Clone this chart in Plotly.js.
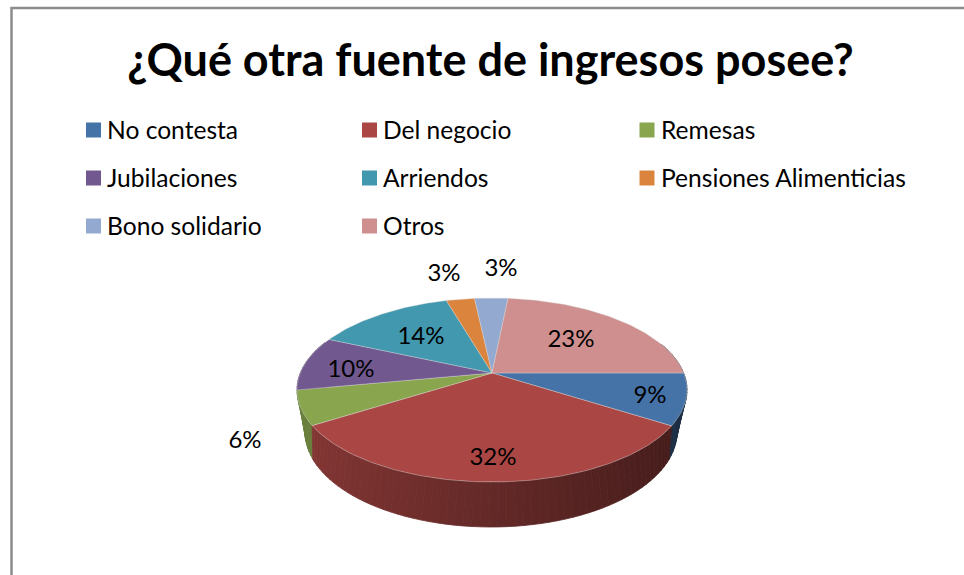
<!DOCTYPE html>
<html><head><meta charset="utf-8">
<script src="https://cdn.plot.ly/plotly-3.0.1.min.js"></script>
<style>html,body{margin:0;padding:0;background:#fff}#c{width:964px;height:575px}</style></head>
<body><div id="c"></div>
<script>
const categories=["No contesta","Del negocio","Remesas","Jubilaciones","Arriendos","Pensiones Alimenticias","Bono solidario","Otros"];
const shares=[9,32,6,9.6,13.8,2.8,3.3,23.4];
const colors=["#4572A7","#AA4643","#89A54E","#71588F","#4198AF","#DB843D","#93A9CF","#CE8F8E"];
const labelX=[650,493,245,351,421,444,501,571];
const labelY=[397,459,442,371,338,275,270,341];
const legendCol=[86,362,639.5];
const legendRow=[130,178,226];

const total=shares.reduce((a,b)=>a+b,0);
const topE={cx:492,cy:390,rx:195,ry:92,k:-0.185};
const botE={cx:491,cy:432,rx:186,ry:95,k:-0.291};
function rim(E,deg){
  const t=deg*Math.PI/180,u=Math.cos(t),v=Math.sin(t),d=1+E.k*v;
  return [E.cx+E.rx*u*Math.sqrt(1-E.k*E.k)/d, E.cy+E.ry*(v+E.k)/d];
}
function shade(hex,f){
  const n=parseInt(hex.slice(1),16);
  return `rgb(${Math.round((n>>16)*f)},${Math.round(((n>>8)&255)*f)},${Math.round((n&255)*f)})`;
}
const traces=[];
const STEP=2;
let a0=0;const spans=shares.map(s=>{const a=a0,b=a0+s/total*360;a0=b;return [a,b];});
const strips=[];
spans.forEach((sp,i)=>{
  for(let a=sp[0];a<sp[1];a+=STEP){
    const b=Math.min(a+STEP,sp[1]);
    const m=(a+b)/2;
    if(Math.sin(m*Math.PI/180)<-0.35) continue;
    strips.push({a,b,i,m});
  }
});
strips.sort((p,q)=>Math.sin(p.m*Math.PI/180)-Math.sin(q.m*Math.PI/180));
strips.forEach(s=>{
  const p=[rim(topE,s.a),rim(topE,s.b),rim(botE,s.b),rim(botE,s.a)];
  const f=0.78-0.38*(p[0][0]-297)/390;
  const col=shade(colors[s.i],f);
  traces.push({type:'scatter',mode:'lines',x:[...p.map(q=>q[0]),p[0][0]],y:[...p.map(q=>q[1]),p[0][1]],
    fill:'toself',fillcolor:col,line:{color:col,width:0.8},hoverinfo:'skip',showlegend:false});
});
const apex=[topE.cx,topE.cy+topE.ry*topE.k];
spans.forEach((sp,i)=>{
  const xs=[apex[0]],ys=[apex[1]];
  for(let a=sp[0];;a+=1){
    const aa=Math.min(a,sp[1]);const q=rim(topE,aa);xs.push(q[0]);ys.push(q[1]);
    if(aa>=sp[1])break;
  }
  xs.push(apex[0]);ys.push(apex[1]);
  traces.push({type:'scatter',mode:'lines',x:xs,y:ys,fill:'toself',fillcolor:colors[i],
    line:{color:'rgba(215,215,215,0.55)',width:0.7},name:categories[i],showlegend:false,hoverinfo:'name'});
});
traces.push({type:'scatter',mode:'text',x:labelX,y:labelY,
  text:shares.map(s=>Math.round(s/total*100)+'%'),textposition:'middle center',
  textfont:{family:'Lato, Carlito, sans-serif',size:24,color:'#000'},hoverinfo:'skip',showlegend:false});
const lx=[],ly=[];
categories.forEach((c,i)=>{lx.push(legendCol[i%3]+7.5);ly.push(legendRow[Math.floor(i/3)]);});
traces.push({type:'scatter',mode:'markers',x:lx,y:ly,marker:{symbol:'square',size:15,color:colors,line:{width:0}},
  hoverinfo:'skip',showlegend:false});
const annotations=categories.map((c,i)=>({xref:'x',yref:'y',x:lx[i]+11.5,y:ly[i]-1,text:c,showarrow:false,
  xanchor:'left',yanchor:'middle',font:{family:'Lato, Carlito, sans-serif',size:24.6,color:'#000'}}));
const layout={
  width:964,height:575,margin:{l:0,r:0,t:0,b:0},paper_bgcolor:'#fff',plot_bgcolor:'#fff',showlegend:false,
  title:{text:'<b>¿Qué otra fuente de ingresos posee?</b>',x:0.5088,xanchor:'center',y:0.895,yanchor:'middle',
    font:{family:'Lato, Carlito, sans-serif',size:45,color:'#000'}},
  xaxis:{range:[0,964],visible:false,fixedrange:true},
  yaxis:{range:[575,0],visible:false,fixedrange:true},
  annotations,
  shapes:[{type:'rect',xref:'paper',yref:'paper',x0:11.5/964,x1:1.1,y0:1-8/575,y1:-0.1,line:{color:'#8c8c8c',width:2.5},fillcolor:'rgba(0,0,0,0)',layer:'above'}]
};
Plotly.newPlot('c',traces,layout,{displayModeBar:false,staticPlot:true});
</script></body></html>
